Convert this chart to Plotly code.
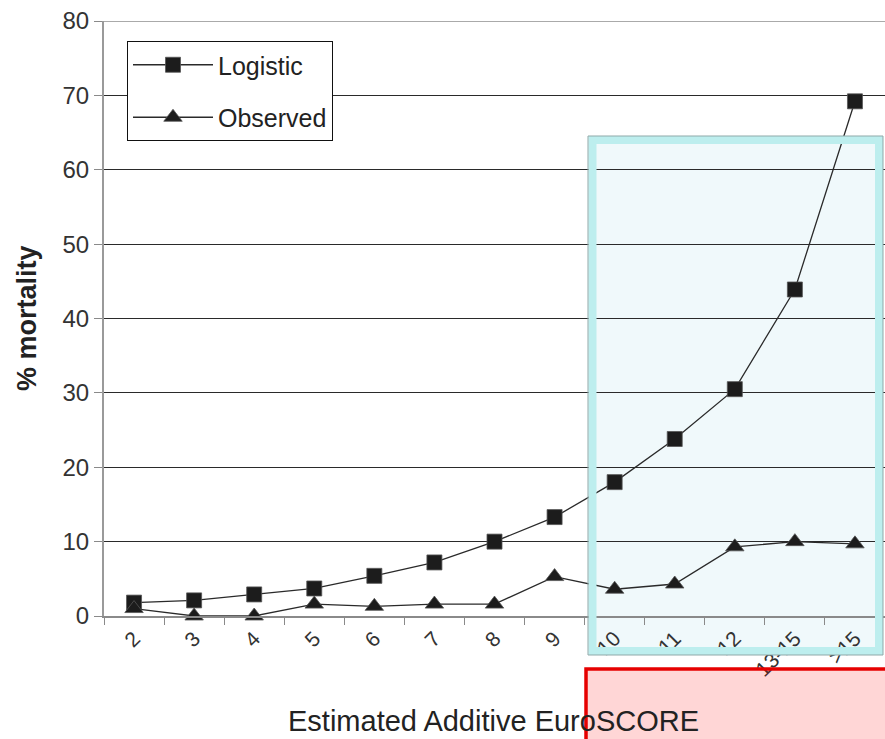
import plotly.graph_objects as go

categories = ["2", "3", "4", "5", "6", "7", "8", "9", "10", "11", "12", "13-15", ">15"]
logistic = [1.8, 2.1, 2.9, 3.7, 5.4, 7.2, 10.0, 13.3, 18.0, 23.8, 30.5, 43.9, 69.2]
observed = [1.0, 0.0, 0.0, 1.6, 1.3, 1.6, 1.6, 5.3, 3.6, 4.3, 9.3, 10.0, 9.7]
y_ticks = [0, 10, 20, 30, 40, 50, 60, 70, 80]

W, H = 885, 739
ML, MR, MT, MB = 104, 0, 21, 123
PW, PH = W - ML - MR, H - MT - MB


def px(x):
    return (x - ML) / PW


def py(y):
    return (H - MB - y) / PH


font = "Liberation Sans, Arial, sans-serif"
fig = go.Figure()
fig.add_trace(go.Scatter(
    x=categories, y=logistic, name="Logistic", mode="lines+markers",
    line=dict(color="#2a2a2a", width=1.3),
    marker=dict(symbol="square", size=15, color="#1c1c1c", line=dict(color="#555", width=0.8)),
    legendgroup="a", cliponaxis=False,
))
fig.add_trace(go.Scatter(
    x=categories, y=observed, name="Observed", mode="lines+markers",
    line=dict(color="#2a2a2a", width=1.3),
    marker=dict(symbol="triangle-up", size=16, color="#1c1c1c", line=dict(color="#555", width=0.8)),
    legendgroup="b", cliponaxis=False,
))

shapes = [
    dict(type="rect", xref="paper", yref="paper", layer="below",
         x0=px(588), x1=px(883), y0=py(655), y1=py(136),
         fillcolor="#f0f9fb", line=dict(width=0)),
    dict(type="rect", xref="paper", yref="paper", layer="above",
         x0=px(592.5), x1=px(879), y0=py(651), y1=py(140),
         fillcolor="rgba(0,0,0,0)", line=dict(color="#bdeeee", width=8)),
    dict(type="rect", xref="paper", yref="paper", layer="above",
         x0=px(588), x1=px(883), y0=py(655), y1=py(136),
         fillcolor="rgba(0,0,0,0)", line=dict(color="#8fa9a9", width=1)),
    dict(type="line", xref="paper", yref="y", layer="above",
         x0=0, x1=1, y0=80, y1=80, line=dict(color="#aaaaaa", width=2)),
    dict(type="rect", xref="paper", yref="paper", layer="above",
         x0=px(586), x1=px(900), y0=py(760), y1=py(669),
         fillcolor="rgba(255,0,0,0.16)", line=dict(color="#e60000", width=3.5)),
]

annotations = [
    dict(text="<b>% mortality</b>", xref="paper", yref="paper",
         x=px(27), y=py(318), xanchor="center", yanchor="middle",
         textangle=-90, showarrow=False, font=dict(size=27, color="#222")),
    dict(text="Estimated Additive EuroSCORE", xref="paper", yref="paper",
         x=px(493), y=py(721), xanchor="center", yanchor="middle",
         showarrow=False, font=dict(size=29, color="#222")),
]

fig.update_layout(
    width=W, height=H,
    margin=dict(l=ML, r=MR, t=MT, b=MB),
    paper_bgcolor="white", plot_bgcolor="rgba(0,0,0,0)",
    font=dict(family=font, color="#222"),
    showlegend=True,
    legend=dict(
        x=px(127), y=py(41), xanchor="left", yanchor="top",
        bordercolor="#111", borderwidth=1, bgcolor="white",
        font=dict(size=25, family=font, color="#222"),
        itemwidth=80, tracegroupgap=17, traceorder="grouped",
    ),
    shapes=shapes,
    annotations=annotations,
    xaxis=dict(
        type="category", categoryorder="array", categoryarray=categories,
        range=[-0.5, len(categories) - 0.5], automargin=False,
        showgrid=False, showline=True, linecolor="#8a8a8a", linewidth=2,
        ticks="outside", tickson="boundaries", ticklen=7, tickcolor="#8a8a8a",
        tickangle=-45, tickfont=dict(size=21, color="#333"),
    ),
    yaxis=dict(
        range=[0, 80], tickvals=y_ticks, automargin=False,
        showgrid=True, gridcolor="#2a2a2a", gridwidth=1.2,
        zeroline=False, showline=True, linecolor="#9a9a9a", linewidth=2,
        ticks="outside", ticklen=8, tickcolor="#8a8a8a",
        tickfont=dict(size=24, color="#333"),
    ),
)

fig.write_html(
    "out.html",
    config={"displayModeBar": False},
    post_script="document.body.style.margin='0';document.body.style.overflow='hidden';",
)
